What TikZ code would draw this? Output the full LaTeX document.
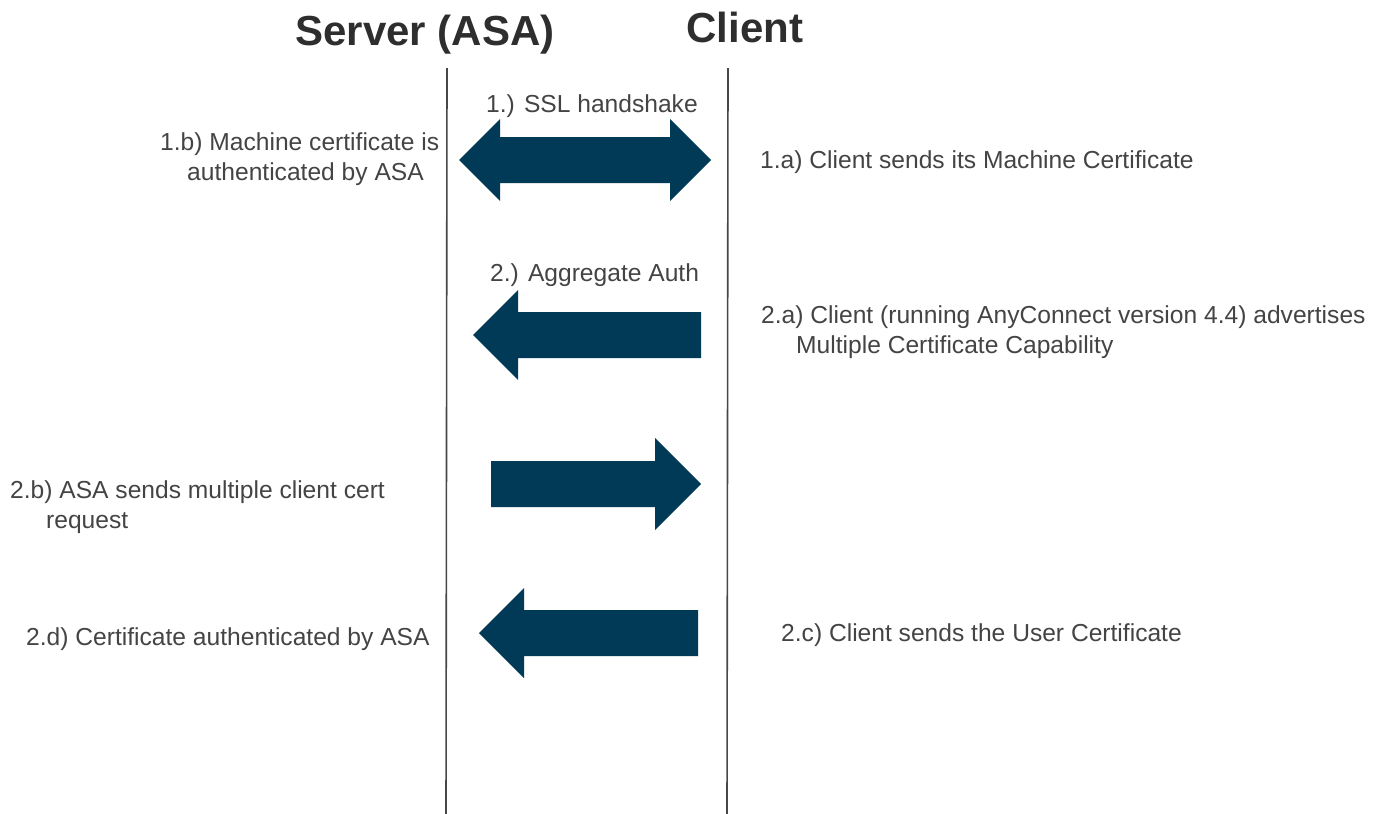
\documentclass[tikz,border=0pt]{standalone}
\usepackage{fontspec}
\setmainfont{Liberation Sans}
\definecolor{arrowblue}{HTML}{003A57}
\definecolor{txt}{HTML}{444444}
\begin{document}
\begin{tikzpicture}[x=1pt,y=-1pt,
  lbl/.style={inner sep=0pt,text=txt,font=\fontsize{24.6pt}{30pt}\selectfont,anchor=west,align=left},
  head/.style={inner sep=0pt,text=black!82,font=\bfseries\fontsize{42pt}{48pt}\selectfont},
  life/.style={draw=black!72,line width=1.6pt},
  arr/.style={fill=arrowblue,draw=none}]
\useasboundingbox (0,0) rectangle (1382,814);
\fill[white] (0,0) rectangle (1382,814);
\node[head] (srv) at (425,35) {Server (ASA)};
\node[head] (cli) at (745,27) {Client};
\coordinate (st) at (447,68); \coordinate (sb) at (446,814);
\coordinate (ct) at (728,68); \coordinate (cb) at (727,814);
\draw[life] (st) -- (sb);
\draw[life] (ct) -- (cb);
\fill[arr] (459,160)--(500,119)--(500,137)--(670,137)--(670,119)--(711,160)--(670,201)--(670,183)--(500,183)--(500,201)--cycle;
\fill[arr] (473,335)--(518,290)--(518,312)--(701,312)--(701,358)--(518,358)--(518,380)--cycle;
\fill[arr] (701,484)--(655,438)--(655,461)--(491,461)--(491,507)--(655,507)--(655,530)--cycle;
\fill[arr] (479,633)--(524,588)--(524,610)--(698,610)--(698,656)--(524,656)--(524,678)--cycle;
\node[lbl] (a) at (486,106) {1.) SSL handshake};
\node[lbl] (b) at (490,275) {2.) Aggregate Auth};
\node[lbl] (c) at (160,159) {1.b) Machine certificate is\\\hspace*{27pt}authenticated by ASA};
\node[lbl] (d) at (760,162) {1.a) Client sends its Machine Certificate};
\node[lbl,anchor=north west] (e) at (761,305) {2.a) Client (running AnyConnect version 4.4) advertises\\\hspace*{35pt}Multiple Certificate Capability};
\node[lbl,anchor=north west] (f) at (10,480) {2.b) ASA sends multiple client cert\\\hspace*{36pt}request};
\node[lbl] (g) at (26,639) {2.d) Certificate authenticated by ASA};
\node[lbl] (h) at (781,635) {2.c) Client sends the User Certificate};
\end{tikzpicture}
\end{document}
